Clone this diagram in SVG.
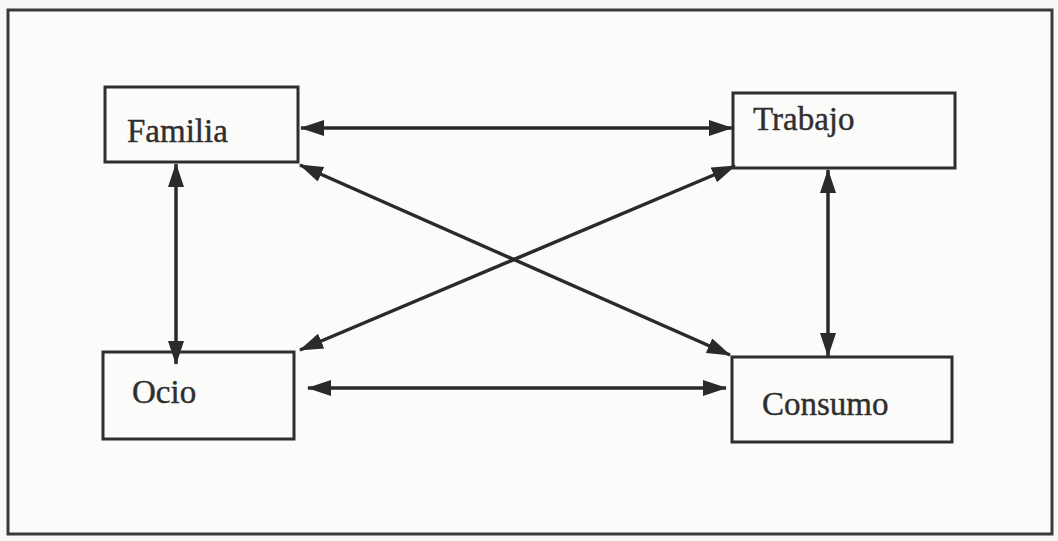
<svg xmlns="http://www.w3.org/2000/svg" width="1058" height="541" viewBox="0 0 1058 541">
<style>
.box{fill:none;stroke:#2e2e2e;stroke-width:3}
.lbl{font-family:"Liberation Serif",serif;font-size:33px;fill:#2f2f2f;stroke:#2f2f2f;stroke-width:0.4}
.con{stroke:#2a2a2a;stroke-width:3.5;fill:none;marker-start:url(#ah);marker-end:url(#ah)}
</style>
<defs>
<marker id="ah" viewBox="0 0 24 16" refX="23" refY="8" markerWidth="24" markerHeight="16" markerUnits="userSpaceOnUse" orient="auto-start-reverse">
<path d="M0,0 L24,8 L0,16 z" fill="#2a2a2a"/>
</marker>
</defs>
<rect x="0" y="0" width="1058" height="541" fill="#f8f8f6"/>
<rect x="8" y="10" width="1044" height="524" fill="#fbfbfa" stroke="#3a3a3a" stroke-width="3"/>
<g id="connectors">
<line class="con" x1="301" y1="128" x2="732" y2="128"/>
<line class="con" x1="176" y1="164" x2="176" y2="364"/>
<line class="con" x1="828" y1="170" x2="828" y2="356"/>
<line class="con" x1="308" y1="388" x2="726" y2="388"/>
<line class="con" x1="300" y1="165" x2="730" y2="355"/>
<line class="con" x1="735" y1="166" x2="300" y2="350"/>
</g>
<g id="familia">
<rect class="box" x="105" y="87" width="193" height="75"/>
<text class="lbl" x="127" y="142">Familia</text>
</g>
<g id="trabajo">
<rect class="box" x="733" y="93" width="222" height="75"/>
<text class="lbl" x="753" y="130">Trabajo</text>
</g>
<g id="ocio">
<rect class="box" x="103" y="352" width="191" height="87"/>
<text class="lbl" x="132" y="403">Ocio</text>
</g>
<g id="consumo">
<rect class="box" x="732" y="357" width="220" height="85"/>
<text class="lbl" x="762" y="415">Consumo</text>
</g>
</svg>
